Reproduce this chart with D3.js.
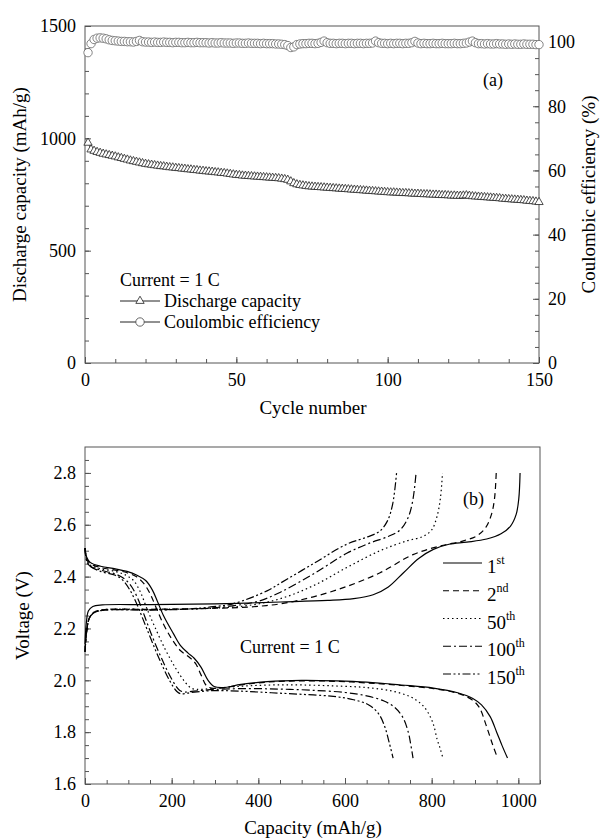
<!DOCTYPE html>
<html>
<head>
<meta charset="utf-8">
<script src="https://cdn.jsdelivr.net/npm/d3@7"></script>
<style>
  body { margin: 0; background: #fff; }
  svg { font-family: "Liberation Serif", "Times New Roman", serif; }
</style>
</head>
<body>
<script>
// ---------- panel (a): cycling, cycles 1..150 ----------
var dischargeCap = [
  980, 950, 944, 939, 935, 931, 928, 925, 922, 919,
  915, 912, 908, 905, 901, 898, 895, 892, 889, 886,
  884, 882, 880, 878, 876, 875, 873, 871, 870, 868,
  867, 865, 864, 862, 861, 859, 858, 856, 855, 853,
  852, 851, 849, 848, 846, 845, 843, 841, 839, 837,
  836, 834, 833, 832, 831, 830, 829, 828, 827, 826,
  825, 824, 823, 822, 820, 818, 815, 808, 800, 795,
  792, 790, 788, 786, 785, 784, 783, 782, 781, 780,
  779, 778, 777, 776, 775, 774, 773, 772, 771, 770,
  769, 768, 767, 766, 765, 764, 763, 762, 761, 760,
  759, 759, 758, 757, 756, 756, 755, 754, 753, 753,
  752, 751, 751, 750, 749, 749, 748, 747, 747, 746,
  745, 745, 744, 744, 745, 746, 744, 742, 741, 740,
  739, 738, 737, 736, 735, 734, 733, 731, 730, 729,
  728, 727, 726, 725, 724, 722, 721, 720, 718, 716
]
var coulombicEff = [
  96.7, 99.5, 100.8, 101.2, 101.3, 101.2, 101.0, 100.7, 100.5, 100.4,
  100.3, 100.2, 100.2, 100.1, 100.1, 100.0, 100.2, 100.5, 100.1, 100.0,
  100.0, 99.9, 100.0, 99.9, 99.9, 100.0, 99.9, 99.9, 99.8, 99.9,
  99.9, 99.8, 99.8, 99.9, 99.8, 99.8, 99.9, 99.8, 99.8, 99.8,
  99.7, 99.8, 99.7, 99.7, 99.8, 99.7, 99.7, 99.7, 99.6, 99.7,
  99.7, 99.6, 99.6, 99.7, 99.6, 99.6, 99.6, 99.5, 99.6, 99.5,
  99.5, 99.5, 99.4, 99.4, 99.3, 99.2, 98.9, 98.3, 98.5, 99.2,
  99.4, 99.5, 99.5, 99.6, 99.6, 99.5, 99.6, 99.9, 100.3, 99.8,
  99.6, 99.6, 99.5, 99.6, 99.6, 99.5, 99.6, 99.6, 99.5, 99.6,
  99.6, 99.5, 99.6, 99.6, 99.7, 100.3, 99.8, 99.6, 99.6, 99.5,
  99.6, 99.5, 99.6, 99.6, 99.5, 99.6, 99.6, 99.8, 100.2, 99.7,
  99.5, 99.6, 99.5, 99.5, 99.6, 99.5, 99.5, 99.6, 99.5, 99.5,
  99.5, 99.6, 99.5, 99.5, 99.6, 99.7, 100.0, 100.3, 99.8, 99.5,
  99.5, 99.4, 99.5, 99.4, 99.4, 99.5, 99.4, 99.4, 99.3, 99.4,
  99.3, 99.4, 99.3, 99.3, 99.4, 99.3, 99.3, 99.3, 99.2, 99.2
]
var cycleTicks = [0, 50, 100, 150]
var capTicks = [0, 500, 1000, 1500]
var ceTicks = [0, 20, 40, 60, 80, 100]

// ---------- panel (b): voltage profiles [capacity mAh/g, voltage V] ----------
var voltTicks = [1.6, 1.8, 2.0, 2.2, 2.4, 2.6, 2.8]
var capacityTicks = [0, 200, 400, 600, 800, 1000]
var cycleNames = ["1", "2", "50", "100", "150"]
var cycleSuffix = ["st", "nd", "th", "th", "th"]

var discharge1 = [[0,2.51],[4,2.475],[12,2.455],[36,2.44],[70,2.43],[97,2.42],[120,2.405],[140,2.385],[155,2.35],[167,2.305],[181,2.25],[204,2.18],[220,2.135],[238,2.105],[252,2.085],[268,2.05],[284,2.0],[298,1.976],[318,1.972],[360,1.984],[420,1.995],[500,2.0],[580,1.998],[650,1.993],[730,1.982],[804,1.97],[860,1.952],[895,1.93],[915,1.905],[935,1.86],[950,1.80],[962,1.75],[975,1.70]]
var discharge2 = [[0,2.51],[4,2.47],[12,2.45],[36,2.435],[70,2.425],[97,2.415],[118,2.40],[135,2.375],[150,2.335],[163,2.285],[180,2.22],[200,2.16],[220,2.115],[240,2.09],[255,2.065],[268,2.02],[280,1.98],[292,1.97],[318,1.971],[360,1.982],[420,1.993],[500,1.998],[580,1.996],[650,1.99],[730,1.98],[804,1.968],[860,1.95],[893,1.925],[910,1.895],[925,1.83],[940,1.755],[952,1.70]]
var discharge50 = [[0,2.51],[4,2.465],[12,2.445],[36,2.43],[70,2.42],[95,2.405],[112,2.385],[128,2.34],[142,2.28],[160,2.21],[185,2.12],[208,2.05],[230,1.995],[245,1.97],[258,1.965],[290,1.968],[360,1.977],[430,1.982],[500,1.982],[580,1.978],[650,1.972],[710,1.958],[750,1.937],[775,1.91],[790,1.88],[803,1.835],[813,1.77],[820,1.735],[826,1.70]]
var discharge100 = [[0,2.51],[4,2.46],[12,2.44],[36,2.425],[70,2.41],[92,2.39],[108,2.36],[122,2.315],[137,2.25],[155,2.17],[178,2.08],[200,2.005],[218,1.962],[230,1.955],[250,1.958],[300,1.965],[380,1.968],[450,1.966],[520,1.962],[600,1.953],[650,1.94],[690,1.92],[715,1.895],[734,1.855],[746,1.80],[752,1.75],[757,1.70]]
var discharge150 = [[0,2.51],[4,2.46],[12,2.44],[36,2.42],[70,2.405],[88,2.385],[103,2.35],[118,2.30],[134,2.235],[152,2.16],[172,2.08],[195,2.0],[212,1.957],[222,1.948],[245,1.953],[290,1.96],[360,1.958],[430,1.952],[500,1.946],[573,1.938],[620,1.925],[655,1.905],[678,1.87],[692,1.82],[702,1.76],[711,1.70]]

var charge1 = [[0,2.14],[3,2.22],[8,2.268],[18,2.285],[40,2.291],[150,2.292],[300,2.295],[451,2.302],[560,2.308],[620,2.315],[665,2.33],[700,2.36],[735,2.415],[770,2.47],[804,2.505],[840,2.525],[881,2.533],[927,2.545],[960,2.565],[982,2.595],[995,2.64],[1001,2.70],[1004,2.80]]
var charge2 = [[0,2.11],[4,2.19],[10,2.24],[20,2.262],[40,2.272],[150,2.274],[300,2.278],[380,2.283],[451,2.295],[527,2.322],[604,2.362],[681,2.415],[757,2.485],[819,2.518],[873,2.538],[905,2.558],[925,2.59],[938,2.64],[945,2.70],[949,2.80]]
var charge50 = [[0,2.11],[4,2.19],[10,2.24],[20,2.262],[40,2.272],[150,2.274],[280,2.277],[374,2.288],[451,2.315],[527,2.365],[604,2.435],[681,2.50],[743,2.538],[780,2.555],[800,2.58],[812,2.63],[820,2.70],[825,2.80]]
var charge100 = [[0,2.11],[4,2.19],[10,2.24],[20,2.26],[40,2.27],[150,2.272],[260,2.276],[330,2.285],[400,2.305],[451,2.34],[527,2.41],[604,2.49],[658,2.53],[700,2.555],[727,2.58],[745,2.625],[756,2.69],[764,2.80]]
var charge150 = [[0,2.11],[4,2.19],[10,2.24],[20,2.26],[40,2.27],[150,2.271],[240,2.275],[290,2.283],[341,2.295],[420,2.345],[451,2.375],[527,2.45],[604,2.525],[650,2.552],[680,2.575],[698,2.615],[710,2.68],[719,2.80]]

var dischargeCurves = [discharge1, discharge2, discharge50, discharge100, discharge150]
var chargeCurves = [charge1, charge2, charge50, charge100, charge150]
var dashes = [null, "6,4", "1.5,3", "8,3,2,3", "8,2.5,2,2.5,2,2.5"]

// ---------- drawing ----------
var width = 600
var height = 840
var axisColor = "#555"
var serif = "Liberation Serif, Times New Roman, serif"

var svg = d3.select("body").append("svg")
  .attr("width", width)
  .attr("height", height)

// axis helper: inward ticks, serif labels
function drawAxis(axis, transform, showLabels) {
  var g = svg.append("g").attr("transform", transform).call(axis)
  g.attr("font-family", serif).attr("font-size", 18).attr("color", axisColor)
  g.select(".domain").remove()
  g.selectAll(".tick line").attr("stroke-width", 1)
  g.selectAll("text").attr("fill", "#000")
  if (!showLabels) g.selectAll("text").remove()
  return g
}

// ===== panel (a) =====
var ma = {left: 85, right: 539, top: 26, bottom: 363}
var xA = d3.scaleLinear().domain([0, 150]).range([ma.left, ma.right])
var yA = d3.scaleLinear().domain([0, 1500]).range([ma.bottom, ma.top])
var yA2 = d3.scaleLinear().domain([0, 105]).range([ma.bottom, ma.top])

drawAxis(d3.axisBottom(xA).tickValues(d3.range(0, 151, 10)).tickSize(-4), "translate(0," + ma.bottom + ")", false)
drawAxis(d3.axisBottom(xA).tickValues(cycleTicks).tickFormat(d3.format("d")).tickSize(-6).tickPadding(10), "translate(0," + ma.bottom + ")", true)
drawAxis(d3.axisLeft(yA).tickValues(d3.range(0, 1501, 100)).tickSize(-4), "translate(" + ma.left + ",0)", false)
drawAxis(d3.axisLeft(yA).tickValues(capTicks).tickFormat(d3.format("d")).tickSize(-6).tickPadding(9), "translate(" + ma.left + ",0)", true)
drawAxis(d3.axisRight(yA2).tickValues(d3.range(0, 101, 5)).tickSize(-4), "translate(" + ma.right + ",0)", false)
drawAxis(d3.axisRight(yA2).tickValues(ceTicks).tickFormat(d3.format("d")).tickSize(-6).tickPadding(9), "translate(" + ma.right + ",0)", true)

svg.append("rect")
  .attr("x", ma.left).attr("y", ma.top)
  .attr("width", ma.right - ma.left).attr("height", ma.bottom - ma.top)
  .attr("fill", "none").attr("stroke", axisColor)

var tri = d3.symbol().type(d3.symbolTriangle).size(30)

// discharge capacity (triangles)
svg.append("path")
  .datum(dischargeCap)
  .attr("fill", "none").attr("stroke", "#222").attr("stroke-width", 0.8)
  .attr("d", d3.line().x((d, i) => xA(i + 1)).y(d => yA(d)))
svg.selectAll(".tri")
  .data(dischargeCap)
  .enter().append("path")
  .attr("class", "tri")
  .attr("d", tri)
  .attr("transform", (d, i) => "translate(" + xA(i + 1) + "," + yA(d) + ")")
  .attr("fill", "#fff").attr("stroke", "#222").attr("stroke-width", 0.8)

// coulombic efficiency (circles)
svg.append("path")
  .datum(coulombicEff)
  .attr("fill", "none").attr("stroke", "#666").attr("stroke-width", 0.8)
  .attr("d", d3.line().x((d, i) => xA(i + 1)).y(d => yA2(d)))
svg.selectAll(".ce")
  .data(coulombicEff)
  .enter().append("circle")
  .attr("class", "ce")
  .attr("cx", (d, i) => xA(i + 1))
  .attr("cy", d => yA2(d))
  .attr("r", 4.2)
  .attr("fill", "#fff").attr("stroke", "#666").attr("stroke-width", 0.8)

// legend (a)
svg.append("text").attr("x", 120).attr("y", 286).attr("font-size", 18).text("Current = 1 C")
var legA = [
  {label: "Discharge capacity", y: 301, mark: "tri"},
  {label: "Coulombic efficiency", y: 322, mark: "circle"}
]
legA.forEach(function (l) {
  svg.append("line").attr("x1", 120).attr("x2", 160).attr("y1", l.y).attr("y2", l.y)
    .attr("stroke", "#222").attr("stroke-width", 1)
  if (l.mark == "tri") {
    svg.append("path").attr("d", tri).attr("transform", "translate(140," + l.y + ")")
      .attr("fill", "#fff").attr("stroke", "#222").attr("stroke-width", 0.8)
  } else {
    svg.append("circle").attr("cx", 140).attr("cy", l.y).attr("r", 4.2)
      .attr("fill", "#fff").attr("stroke", "#444").attr("stroke-width", 0.8)
  }
  svg.append("text").attr("x", 164).attr("y", l.y + 6).attr("font-size", 18).text(l.label)
})

svg.append("text").attr("x", 483).attr("y", 86).attr("font-size", 18).text("(a)")

// axis titles (a)
svg.append("text").attr("x", 313).attr("y", 414).attr("text-anchor", "middle").attr("font-size", 19).text("Cycle number")
svg.append("text").attr("transform", "translate(26," + ((ma.top + ma.bottom) / 2) + ") rotate(-90)")
  .attr("text-anchor", "middle").attr("font-size", 19).text("Discharge capacity (mAh/g)")
svg.append("text").attr("transform", "translate(595," + ((ma.top + ma.bottom) / 2) + ") rotate(-90)")
  .attr("text-anchor", "middle").attr("font-size", 19).text("Coulombic efficiency (%)")

// ===== panel (b) =====
var mb = {left: 85, right: 540, top: 447, bottom: 784}
var xB = d3.scaleLinear().domain([0, 1050]).range([mb.left, mb.right])
var yB = d3.scaleLinear().domain([1.6, 2.9]).range([mb.bottom, mb.top])

drawAxis(d3.axisBottom(xB).tickValues(d3.range(0, 1051, 50)).tickSize(-4), "translate(0," + mb.bottom + ")", false)
drawAxis(d3.axisBottom(xB).tickValues(capacityTicks).tickFormat(d3.format("d")).tickSize(-6).tickPadding(10), "translate(0," + mb.bottom + ")", true)
drawAxis(d3.axisLeft(yB).tickValues(d3.range(32, 58).map(v => v / 20)).tickSize(-4), "translate(" + mb.left + ",0)", false)
drawAxis(d3.axisLeft(yB).tickValues(voltTicks).tickFormat(d3.format(".1f")).tickSize(-6).tickPadding(9), "translate(" + mb.left + ",0)", true)

svg.append("rect")
  .attr("x", mb.left).attr("y", mb.top)
  .attr("width", mb.right - mb.left).attr("height", mb.bottom - mb.top)
  .attr("fill", "none").attr("stroke", axisColor)

var vLine = d3.line()
  .x(d => xB(d[0]))
  .y(d => yB(d[1]))
  .curve(d3.curveCatmullRom.alpha(0.5))

cycleNames.forEach(function (name, i) {
  [dischargeCurves[i], chargeCurves[i]].forEach(function (c) {
    svg.append("path")
      .datum(c)
      .attr("d", vLine)
      .attr("fill", "none")
      .attr("stroke", "#000")
      .attr("stroke-width", 1.2)
      .attr("stroke-dasharray", dashes[i])
  })
})

// legend (b)
var legY = d3.scalePoint().domain(cycleNames).range([563, 674])
cycleNames.forEach(function (name, i) {
  var y = legY(name)
  svg.append("line").attr("x1", 443).attr("x2", 482).attr("y1", y).attr("y2", y)
    .attr("stroke", "#000").attr("stroke-width", 1.2).attr("stroke-dasharray", dashes[i])
  var t = svg.append("text").attr("x", 487).attr("y", y + 10).attr("font-size", 19)
  t.append("tspan").text(name)
  t.append("tspan").attr("dy", -9).attr("font-size", 12).text(cycleSuffix[i])
})

svg.append("text").attr("x", 463).attr("y", 505).attr("font-size", 18).text("(b)")
svg.append("text").attr("x", 240).attr("y", 653).attr("font-size", 18).text("Current = 1 C")

// axis titles (b)
svg.append("text").attr("x", 313).attr("y", 834).attr("text-anchor", "middle").attr("font-size", 19).text("Capacity (mAh/g)")
svg.append("text").attr("transform", "translate(29," + ((mb.top + mb.bottom) / 2) + ") rotate(-90)")
  .attr("text-anchor", "middle").attr("font-size", 19).text("Voltage (V)")
</script>
</body>
</html>
